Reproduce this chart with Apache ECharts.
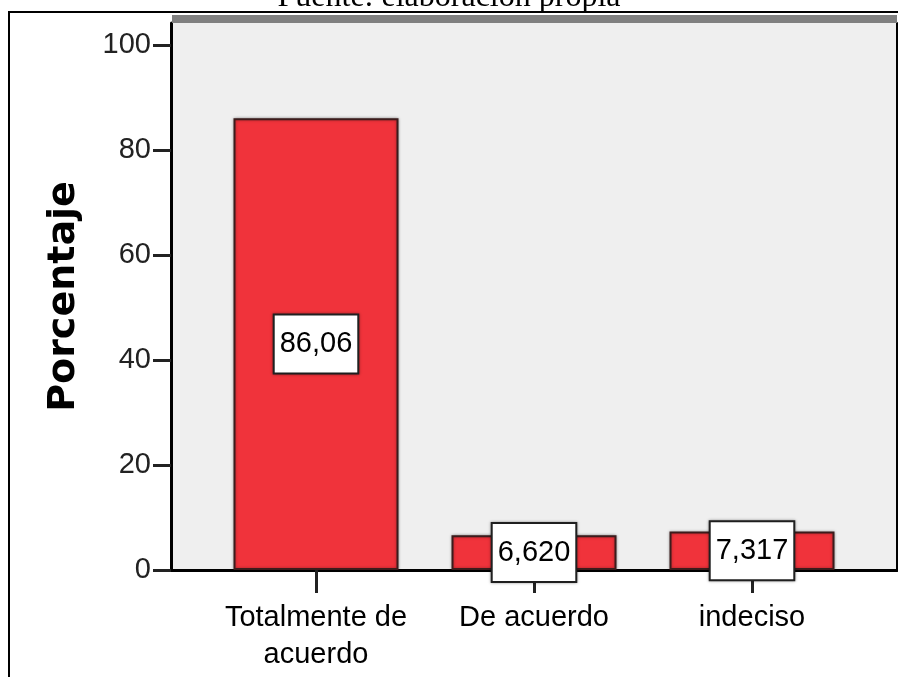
<!DOCTYPE html>
<html>
<head>
<meta charset="utf-8">
<script src="https://cdn.jsdelivr.net/npm/echarts@6/dist/echarts.min.js"></script>
<style>html,body{margin:0;padding:0;background:#fff;}#c{width:898px;height:677px;}</style>
</head>
<body>
<div id="c"></div>
<script>
const categories = ['Totalmente de\nacuerdo', 'De acuerdo', 'indeciso'];
const values = [86.06, 6.620, 7.317];
const yTicks = [0, 20, 40, 60, 80, 100];
const yTitle = 'Porcentaje';
const sourceText = 'Fuente: elaboración propia';

const SANS = '"Liberation Sans", Arial, sans-serif';
const chart = echarts.init(document.getElementById('c'));
const option = {
  animation: false,
  backgroundColor: '#ffffff',
  title: {
    text: sourceText, left: 'center', top: -18, padding: 0,
    textStyle: { fontFamily: '"Liberation Serif", serif', fontSize: 32, fontWeight: 'normal', color: '#000' }
  },
  graphic: [
    { type: 'rect', shape: { x: 9, y: 12, width: 900, height: 700 }, style: { fill: 'none', stroke: '#000', lineWidth: 2 }, z: 100 },
    { type: 'rect', shape: { x: 172, y: 15, width: 725, height: 8 }, style: { fill: '#808080' }, z: 100 }
  ],
  grid: [
    { left: 171, right: 1, top: 23, bottom: 107, show: true, backgroundColor: '#efefef', borderWidth: 0 },
    { left: 207, width: 654, top: 23, bottom: 107 }
  ],
  xAxis: [
    { gridIndex: 0, type: 'value', min: 0, max: 1, axisLine: { show: true, onZero: false, lineStyle: { color: '#000', width: 3 } },
      axisTick: { show: false }, axisLabel: { show: false }, splitLine: { show: false } },
    { gridIndex: 1, type: 'category', data: categories,
      axisLine: { show: false },
      axisTick: { show: true, alignWithLabel: true, length: 23, lineStyle: { color: '#222', width: 3 } },
      axisLabel: { interval: 0, margin: 29, fontFamily: SANS, fontSize: 29, color: '#000', lineHeight: 37 } }
  ],
  yAxis: [
    { gridIndex: 0, type: 'value', min: 0, max: 104.2, interval: 20,
      name: yTitle, nameLocation: 'middle', nameGap: 88,
      nameTextStyle: { fontFamily: '"DejaVu Sans", sans-serif', fontWeight: 'bold', fontSize: 38, color: '#000' },
      axisLine: { show: true, lineStyle: { color: '#000', width: 3 } },
      axisTick: { show: true, length: 18, customValues: yTicks, lineStyle: { color: '#222', width: 3 } },
      axisLabel: { margin: 20, customValues: yTicks, fontFamily: SANS, fontSize: 29, color: '#222' },
      splitLine: { show: false } },
    { gridIndex: 0, type: 'value', position: 'right', min: 0, max: 104.2,
      axisLine: { show: true, lineStyle: { color: '#000', width: 2 } }, axisTick: { show: false }, axisLabel: { show: false }, splitLine: { show: false } },
    { gridIndex: 1, type: 'value', min: 0, max: 104.2, show: false }
  ],
  series: [{
    type: 'bar', xAxisIndex: 1, yAxisIndex: 2, data: values, barWidth: 165,
    itemStyle: { color: '#f0333b', borderColor: '#3c1c1c', borderWidth: 2, shadowColor: 'rgba(0,0,0,0.35)', shadowBlur: 3 },
    label: {
      show: true, position: 'inside',
      formatter: p => p.value.toPrecision(4).replace('.', ','),
      fontFamily: SANS, fontSize: 29, color: '#000',
      backgroundColor: '#fff', borderColor: '#222', borderWidth: 2, padding: [15, 5, 13, 5],
      shadowColor: 'rgba(0,0,0,0.4)', shadowBlur: 3
    }
  }]
};
chart.setOption(option);
</script>
</body>
</html>
